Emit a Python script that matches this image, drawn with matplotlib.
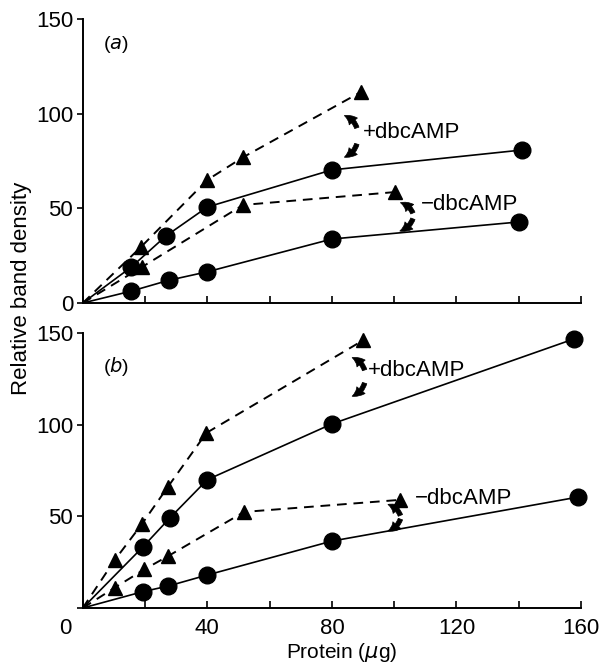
import numpy as np
import matplotlib
matplotlib.use("Agg")
import matplotlib.pyplot as plt
from matplotlib.transforms import ScaledTranslation

plt.rcParams["font.family"] = ["Liberation Sans", "DejaVu Sans"]

# panel (a)
a_plus_circ_x = [0, 15.6, 26.7, 40, 80, 141]
a_plus_circ_y = [0, 19, 35.4, 50.7, 70.3, 80.8]
a_minus_circ_x = [0, 15.6, 27.6, 40, 80, 140]
a_minus_circ_y = [0, 6.3, 12, 16.5, 33.8, 42.8]
a_plus_tri_x = [0, 18.7, 40, 51.5, 89.4]
a_plus_tri_y = [0, 29.6, 65, 77, 111.5]
a_minus_tri_x = [0, 19, 51.5, 100.3]
a_minus_tri_y = [0, 19, 51.8, 58.6]

# panel (b)
b_plus_circ_x = [0, 19.3, 27.9, 40, 80, 157.6]
b_plus_circ_y = [0, 33.3, 49, 70, 100.4, 146.7]
b_minus_circ_x = [0, 19.3, 27.5, 40, 80, 159]
b_minus_circ_y = [0, 8.9, 12, 18, 36.5, 60.5]
b_plus_tri_x = [0, 10.2, 19, 27.3, 39.7, 90]
b_plus_tri_y = [0, 26, 45.8, 66, 95.5, 146]
b_minus_tri_x = [0, 10.2, 19.7, 27.5, 51.8, 102]
b_minus_tri_y = [0, 11, 21, 28.4, 52.4, 59]

x_ticks = [0, 20, 40, 60, 80, 100, 120, 140, 160]
x_ticklabels = ["0", "", "40", "", "80", "", "120", "", "160"]
y_ticks = [0, 50, 100, 150]

fig = plt.figure(figsize=(6.04, 6.71), dpi=100)
ax_a = fig.add_axes([0.137, 0.5484, 0.825, 0.4233])
ax_b = fig.add_axes([0.137, 0.0939, 0.825, 0.4098])

def draw_panel(ax, pc, mc, pt, mt):
    for xs, ys in (pc, mc):
        ax.plot(xs, ys, "-", color="black", lw=1.2)
    for xs, ys in (pt, mt):
        ax.plot(xs, ys, "--", color="black", lw=1.4, dashes=(5, 3.5))
    for xs, ys in (pc, mc):
        ax.plot(xs[1:], ys[1:], "o", color="black", ms=12, ls="none", clip_on=False)
    for xs, ys in (pt, mt):
        ax.plot(xs[1:], ys[1:], "^", color="black", ms=10, ls="none", clip_on=False)
    ax.set_xlim(0, 160)
    ax.set_ylim(0, 150)
    ax.spines["top"].set_visible(False)
    ax.spines["right"].set_visible(False)
    ax.spines["left"].set_linewidth(1.4)
    ax.spines["bottom"].set_linewidth(1.4)
    ax.set_xticks(x_ticks)
    ax.set_yticks(y_ticks)
    ax.tick_params(axis="x", direction="in", length=5, width=1.2, labelsize=16, pad=7)
    ax.tick_params(axis="y", direction="out", length=4, width=1.2, labelsize=16, pad=3)

def curl(ax, tail, head, rad):
    ax.annotate("", xy=head, xytext=tail,
                arrowprops=dict(arrowstyle="simple,head_length=0.7,head_width=0.7,tail_width=0.3",
                                color="black", lw=0.5, mutation_scale=11,
                                shrinkA=0, shrinkB=0,
                                connectionstyle=f"arc3,rad={rad}"))

draw_panel(ax_a, (a_plus_circ_x, a_plus_circ_y), (a_minus_circ_x, a_minus_circ_y),
           (a_plus_tri_x, a_plus_tri_y), (a_minus_tri_x, a_minus_tri_y))
draw_panel(ax_b, (b_plus_circ_x, b_plus_circ_y), (b_minus_circ_x, b_minus_circ_y),
           (b_plus_tri_x, b_plus_tri_y), (b_minus_tri_x, b_minus_tri_y))

ax_a.set_xticklabels([""] * len(x_ticks))
ax_b.set_xticklabels(x_ticklabels)
ax_b.set_yticklabels(["", "50", "100", "150"])
# the shared "0" sits left of the corner
first = ax_b.get_xticklabels()[0]
first.set_transform(first.get_transform() + ScaledTranslation(-0.17, 0, fig.dpi_scale_trans))

ax_a.text(0.04, 0.895, "($\\it{a}$)", transform=ax_a.transAxes, fontsize=14)
ax_b.text(0.04, 0.86, "($\\it{b}$)", transform=ax_b.transAxes, fontsize=14)

ax_a.text(90, 90.3, "+dbcAMP", fontsize=16, va="center")
ax_a.text(108.7, 51.8, "\u2212dbcAMP", fontsize=16, va="center")
ax_b.text(91.5, 129.8, "+dbcAMP", fontsize=16, va="center")
ax_b.text(106.6, 59.5, "\u2212dbcAMP", fontsize=16, va="center")

curl(ax_a, (88, 92.5), (84, 99), 0.25)
curl(ax_a, (88, 84), (84, 77), -0.25)
curl(ax_a, (106, 47.5), (102, 53), 0.25)
curl(ax_a, (106, 44.5), (101.8, 38), -0.25)
curl(ax_b, (90.5, 129.8), (86.5, 136.6), 0.25)
curl(ax_b, (90.5, 122.7), (86.5, 115.5), -0.25)
curl(ax_b, (102, 50.5), (98, 56.5), 0.25)
curl(ax_b, (102, 48.5), (98, 42), -0.25)

fig.text(0.036, 1 - 288 / 671, "Relative band density", rotation=90,
         ha="center", va="center", fontsize=16)
fig.text(342 / 604, 1 - 641 / 671, "Protein ($\\mu$g)", ha="center", va="top",
         fontsize=15)

fig.savefig("out.png", dpi=100)
